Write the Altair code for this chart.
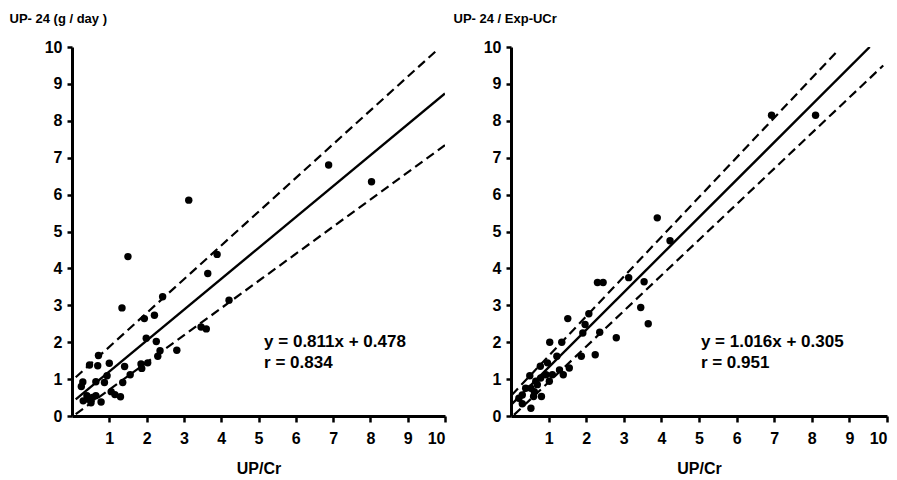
import altair as alt
import pandas as pd

# ---- data ----
left_x = [0.29, 0.25, 0.30, 0.42, 0.51, 0.64, 0.78, 0.40, 0.55,
          0.47, 0.71, 0.69, 0.64, 0.87, 0.94, 1.00, 1.05, 1.15, 1.30,
          1.36, 1.41, 1.56, 1.34, 1.50,
          1.85, 1.87, 2.03, 1.94, 1.99, 2.21, 2.26, 2.36, 2.30, 2.43, 2.81,
          3.13, 3.46, 3.60, 3.64, 3.89, 4.21, 6.88, 8.03]
left_y = [0.92, 0.80, 0.41, 0.46, 0.36, 0.55, 0.38, 0.55, 0.50,
          1.38, 1.64, 1.36, 0.93, 0.91, 1.09, 1.43, 0.66, 0.58, 0.52,
          0.91, 1.34, 1.12, 2.93, 4.32,
          1.41, 1.29, 1.44, 2.64, 2.11, 2.73, 2.02, 1.77, 1.62, 3.23, 1.78,
          5.85, 2.41, 2.36, 3.86, 4.38, 3.14, 6.80, 6.35]

right_x = [0.21, 0.30, 0.30, 0.39, 0.53, 0.53, 0.60, 0.62, 0.70, 0.50, 0.66, 0.79,
           0.81, 0.78, 0.93, 0.97, 1.02, 1.10, 1.03, 1.22, 1.29, 1.39, 1.35, 1.55,
           1.51, 1.87, 1.91, 1.97, 2.07, 2.24, 2.36, 2.30, 2.45, 2.80, 3.13, 3.45,
           3.54, 3.65, 3.89, 4.23, 6.93, 8.10]
right_y = [0.48, 0.33, 0.57, 0.75, 0.75, 0.21, 0.53, 0.66, 0.85, 1.09, 0.94, 1.03,
           0.53, 1.35, 1.12, 1.44, 0.94, 1.12, 2.00, 1.62, 1.25, 1.12, 2.00, 1.30,
           2.64, 1.62, 2.25, 2.48, 2.77, 1.66, 2.27, 3.62, 3.62, 2.12, 3.75, 2.94,
           3.64, 2.50, 5.37, 4.75, 8.15, 8.15]

# line end points (fit line and dashed bands)
left_fit_x, left_fit_y = [0.10, 10.0], [0.45, 8.74]
left_up_x, left_up_y = [0.10, 9.78], [1.05, 9.91]
left_lo_x, left_lo_y = [0.10, 10.0], [0.05, 7.34]

right_fit_x, right_fit_y = [0.02, 9.54], [0.32, 10.0]
right_up_x, right_up_y = [0.02, 8.70], [0.57, 9.91]
right_lo_x, right_lo_y = [0.08, 9.90], [0.03, 9.50]

left_eq = ["y = 0.811x + 0.478", "r = 0.834"]
right_eq = ["y = 1.016x + 0.305", "r = 0.951"]

left_ytitle = "UP- 24 (g / day )"
right_ytitle = "UP- 24 / Exp-UCr"
xtitle = "UP/Cr"

y_ticks = list(range(0, 11))
x_ticks = list(range(1, 11))

FONT = "Liberation Sans"


def panel(px, py, fit, up, lo, eq, ytitle, width, title_x, eq_x):
    xs = alt.Scale(domain=[0, 10], nice=False, zero=False)
    ys = alt.Scale(domain=[0, 10], nice=False, zero=False)
    xax = alt.Axis(values=x_ticks, title=xtitle, grid=False, tickSize=6,
                   labelPadding=8, titlePadding=14, titleFontSize=16,
                   labelOverlap=False)
    yax = alt.Axis(values=y_ticks, title=ytitle, grid=False, tickSize=5,
                   labelPadding=5, titleAngle=0, titleAlign="left",
                   titleBaseline="middle", titleX=title_x, titleY=-29,
                   titleFontSize=13, labelOverlap=False, tickCount=11)

    def X(f):
        return alt.X(f, scale=xs, axis=xax, title=xtitle)

    def Y(f):
        return alt.Y(f, scale=ys, axis=yax, title=ytitle)

    pts = alt.Chart(pd.DataFrame({"x": px, "y": py})).mark_circle(
        size=55, color="black", opacity=1
    ).encode(x=X("x:Q"), y=Y("y:Q"))

    def line(xy, dash):
        kw = dict(color="black", strokeWidth=2.4 if not dash else 2.2, clip=True)
        if dash:
            kw["strokeDash"] = [9, 5]
        return alt.Chart(pd.DataFrame({"x": xy[0], "y": xy[1]})).mark_line(**kw).encode(
            x=X("x:Q"), y=Y("y:Q"))

    def txt(s, yv):
        return alt.Chart().mark_text(align="left", baseline="middle", font=FONT,
                                     fontWeight="bold", fontSize=17, color="black").encode(
            x=alt.XDatum(eq_x, scale=xs, axis=xax, title=xtitle),
            y=alt.YDatum(yv, scale=ys, axis=yax, title=ytitle),
            text=alt.value(s))

    return alt.layer(line(up, True), line(lo, True), line(fit, False), pts,
                     txt(eq[0], 2.0), txt(eq[1], 1.44)).properties(width=width, height=369)


left = panel(left_x, left_y, (left_fit_x, left_fit_y), (left_up_x, left_up_y),
             (left_lo_x, left_lo_y), left_eq, left_ytitle, 373, -63, 5.15)
right = panel(right_x, right_y, (right_fit_x, right_fit_y), (right_up_x, right_up_y),
              (right_lo_x, right_lo_y), right_eq, right_ytitle, 376, -58, 5.05)

chart = alt.hconcat(left, right, spacing=66, bounds="flush").properties(
    padding={"left": 1, "top": 4, "right": 0, "bottom": 0},
    background="white",
).configure_view(stroke=None).configure_axis(
    domainColor="black", domainWidth=3, tickColor="black", tickWidth=2.5,
    labelFont=FONT, labelFontWeight="bold", labelFontSize=16, labelColor="black",
    titleFont=FONT, titleFontWeight="bold", titleColor="black",
)

chart.save("out.html", embed_options={"renderer": "svg", "actions": False})
